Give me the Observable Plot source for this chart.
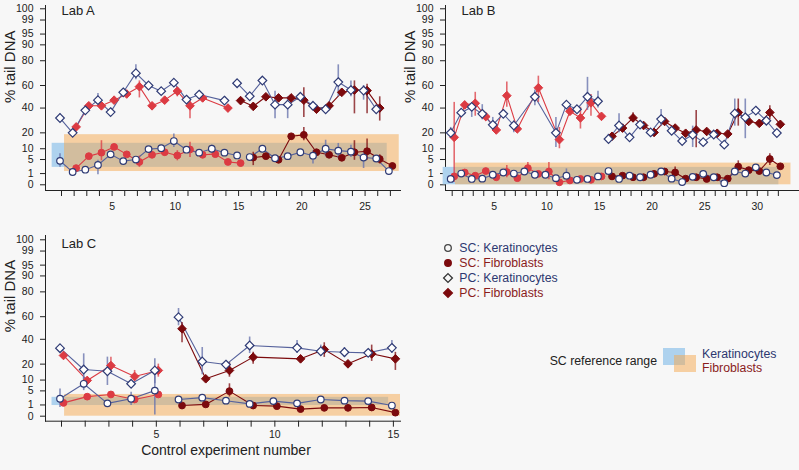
<!DOCTYPE html>
<html><head><meta charset="utf-8">
<script src="https://cdn.jsdelivr.net/npm/d3@7"></script>
<script src="https://cdn.jsdelivr.net/npm/@observablehq/plot@0.6"></script>
<style>
body{margin:0;background:#f7f7f7;font-family:"Liberation Sans",Arial,sans-serif;}
#wrap{position:relative;width:799px;height:470px;overflow:hidden;}
.panel{position:absolute;}
.leg{position:absolute;font-size:12.3px;line-height:14px;white-space:nowrap;}
.sw{position:absolute;}
</style></head><body><div id="wrap"></div>
<script>
// ---------- data (% tail DNA), index = control experiment number - 1 ----------
const yTickLabels = [0, 1, 5, 10, 20, 40, 60, 80, 90, 95, 99, 100];

// Lab A (27 experiments)
const labA_SCK = [4.5,1.3,1.8,3.1,7.2,4.4,5,9.8,10.3,14.5,9.5,8,10,8,6.7,6,10,5.5,6.4,8.2,6.6,10,9,8.5,5.8,5.4,1.5];
const labA_SCF = [null,2.2,6.4,8,11,7.2,4.1,7,8.2,6.7,9.6,7,7.3,4.1,3.7,5.8,6.4,4.9,17.6,18.6,8.2,7,5.7,8.2,8.7,5.2,2.8];
const labA_PCK = [31.5,20,38,47,36.5,54,70.5,60,55,62.5,47.5,52,null,46.6,62,50.5,64.3,43,43,50,42,39,63,56,55.5,39,null];
const labA_PCF = [null,24.4,42,42,47,52.5,59,42,47,55,42,49,null,40,46.6,41.5,50,49,49,47,39,42,54,56,55.5,40,null];
const labA_splitSC = 16, labA_splitPC = 15;
const labA_ranges = [
  {kind:"K", x1:0.26, x2:26.75, lo:2.4, hi:13.1},
  {kind:"F", x1:1.24, x2:27.7, lo:1.4, hi:18.7}
];
const labA_err = [
  ["PCK",1,28,35],["PCK",4,44,53],["PCK",7,65,77],["PCF",7,49,64],["PCK",9,52,58],["PCK",10,60,65],["PCF",10,50,58],
  ["PCF",11,31,47],["PCF",12,45,52],["PCK",14,44,50],["PCK",18,31,55],["PCK",19,31,50],["PCF",20,32,58],["PCK",23,50,77],
  ["PCK",24,50,64],["PCF",24,35,64],["PCF",25,35,61],["PCK",25,47,60],["PCF",26,29,50],
  ["SCK",1,2.4,7.5],["SCF",4,4.5,14.7],["SCK",4,0.8,4.7],["SCF",7,2.4,6.4],["SCK",10,10.7,19.2],["SCF",10,4.5,9],
  ["SCF",11,5.8,13.7],["SCK",13,7.7,12],["SCF",16,2.9,8.2],["SCF",20,14.7,24],["SCK",21,3.4,9],["SCK",22,6.1,15],
  ["SCK",23,5.5,13],["SCF",24,4.7,14.7],["SCK",24,5.8,12],["SCF",25,4.7,15.8],["SCK",25,2.1,8],["SCF",26,3.4,7]
];

// Lab B (32 experiments)
const labB_SCK = [0.27,1.0,0.27,0.3,0.8,1.2,1.0,1.4,0.8,0.8,0.35,0.66,0.2,0.27,0.56,1.5,0.27,0.66,0.45,0.8,1.4,0.3,0.06,0.5,0.95,0.45,0.02,1.4,1.0,2.4,1.2,0.75];
const labB_SCF = [0.56,1.2,0.66,1.5,0.45,1.3,0.35,2.2,0.95,1.4,0.05,0.15,0.27,0.2,0.56,0.56,0.66,0.45,0.45,0.95,1.4,1.2,0.3,0.45,0.27,0.45,0.3,2.6,1.7,1.5,5.2,2.7];
const labB_PCK = [20,36,41,35,26,35,25.5,null,50,null,20,43,39,50,46,15.8,25.5,16.9,26.2,20.3,30.6,21.5,14.5,18.6,13.8,18.8,12.3,35.4,32.1,37.8,29.3,19.9];
const labB_PCF = [16.9,42.8,44.2,32.7,22.1,51,22.9,null,58,null,15.4,37.2,31.6,44.6,32.9,17.6,23.5,31.6,25.5,20.3,28.7,23.5,19.7,22.1,21,19.7,19.2,36.2,28.7,27.2,36.2,26.4];
const labB_splitSC = 16, labB_splitPC = 16;
const labB_ranges = [
  {kind:"K", x1:0.14, x2:32.05, lo:0, hi:2.4},
  {kind:"F", x1:1.31, x2:33.2, lo:0, hi:3.7}
];
const labB_err = [
  ["PCF",1,0.05,45],["PCK",1,17,24],["PCF",3,33,54],["PCK",3,32,44],["PCK",4,30,43],["PCK",5,21.6,32],["PCF",6,40.7,63],
  ["PCK",7,20,29],["PCF",9,45,68],["PCK",9,42,56],["PCK",11,10.7,32],["PCF",11,10,24],["PCF",13,22.8,40.7],["PCK",14,38,67],
  ["PCF",14,33,52],["PCK",15,40,55],["PCK",16,13,19],["PCK",17,20,35],["PCF",18,28,36],["PCK",20,18,23],["PCK",21,25,38.7],
  ["PCF",24,10.5,37.8],["PCK",24,10.7,25],["PCK",28,25,48],["PCF",28,25,48],["PCK",29,16,48],["PCF",31,30,42],
  ["SCF",6,0.4,2.9],["SCF",8,1.3,3.9],["SCF",10,0.2,3.9],["SCK",12,0.1,2],["SCF",22,0.5,2.5],["SCF",28,1.5,4.5],["SCF",31,2.9,7.5]
];

// Lab C (15 experiments)
const labC_SCK = [2.4,8.1,1.3,2.4,5.1,2.2,2.7,1.9,1.2,1.8,1.3,2.2,1.9,1.8,0.9];
const labC_SCF = [1.4,3.0,3.7,2.2,3.7,0.9,1.1,4.9,0.9,0.8,0.4,0.55,0.55,0.6,0.1];
const labC_PCK = [32.4,16.3,15.2,8.1,15.7,59.6,21.9,19.7,34.7,null,32.7,29.9,29.1,28.6,32.7];
const labC_PCF = [26.5,9.8,19,12,15.7,49.3,10.7,15.7,25.2,null,23.9,31.3,20.2,27.8,23.9];
const labC_splitSC = 6, labC_splitPC = 6;
const labC_ranges = [
  {kind:"K", x1:0.6, x2:14.8, lo:0.9, hi:2.8},
  {kind:"F", x1:1.13, x2:15.3, lo:0, hi:3.7}
];
const labC_err = [
  ["SCK",1,0.6,5.8],["PCK",2,5.8,27.8],["SCK",2,5.1,11.6],["PCK",3,7.3,25.2],["PCF",3,15.7,25.2],["PCF",4,9.4,15.7],
  ["SCK",4,0.9,4.5],["PCK",5,8.1,23.9],["SCK",5,0.01,12],["PCF",5,11.6,20],["PCK",6,52,67],["PCF",6,37,55],["PCK",7,13,33],
  ["PCF",8,11.6,21],["SCF",8,2.9,8.1],["PCK",9,28,42],["PCF",9,20,29],["PCK",11,28,39],["PCK",12,26,35],["PCF",12,25,37],
  ["PCK",13,25,33],["PCF",14,22,35],["PCK",15,28,39],["PCF",15,15.7,29]
];

// ---------- drawing ----------
const T = p => Math.asin(Math.sqrt(Math.max(0, Math.min(100, p)) / 100)); // arcsine-sqrt scale
const K_LINE = "#56629c", K_STROKE = "#2f3b75", F1 = "#dc3b43", F2 = "#7c0a0d";
const K_ERR = "#6a76ae";
const RANGE_K = "#aed2ee", RANGE_F = "#f5a84e", RANGE_F_OP = 0.5;
const fcol = d => d.batch === 1 ? F1 : F2;

function series(vals, code, split) {
  return vals.map((v, i) => ({exp: i + 1, v, code, batch: i + 1 >= split ? 2 : 1})).filter(d => d.v != null);
}

function panel(cfg) {
  const SCK = series(cfg.sck, "SCK", cfg.splitSC);
  const SCF = series(cfg.scf, "SCF", cfg.splitSC);
  const PCK = series(cfg.pck, "PCK", cfg.splitPC);
  const PCF = series(cfg.pcf, "PCF", cfg.splitPC);
  const errs = cfg.err.map(([code, exp, lo, hi]) => ({code, exp, lo, hi,
    batch: exp >= (code.startsWith("SC") ? cfg.splitSC : cfg.splitPC) ? 2 : 1}));
  const dxK = -1.5, dxF = 2;
  const yv = d => T(d.v);
  const marks = [
    Plot.rect(cfg.ranges.filter(r => r.kind === "K"), {x1: "x1", x2: "x2", y1: d => T(d.lo), y2: d => T(d.hi), fill: RANGE_K}),
    Plot.rect(cfg.ranges.filter(r => r.kind === "F"), {x1: "x1", x2: "x2", y1: d => T(d.lo), y2: d => T(d.hi), fill: RANGE_F, fillOpacity: RANGE_F_OP}),
    Plot.line(PCF, {x: "exp", y: yv, z: "batch", stroke: fcol, strokeWidth: 1.1, dx: dxF}),
    Plot.line(SCF, {x: "exp", y: yv, z: "batch", stroke: fcol, strokeWidth: 1.1, dx: dxF}),
    Plot.line(PCK, {x: "exp", y: yv, z: "batch", stroke: K_LINE, strokeWidth: 1.1, dx: dxK}),
    Plot.line(SCK, {x: "exp", y: yv, z: "batch", stroke: K_LINE, strokeWidth: 1.1, dx: dxK}),
    Plot.ruleX(errs.filter(d => d.code.endsWith("F")), {x: "exp", y1: d => T(d.lo), y2: d => T(d.hi), stroke: fcol, strokeWidth: 1.6, strokeOpacity: 0.75, dx: dxF}),
    Plot.ruleX(errs.filter(d => d.code.endsWith("K")), {x: "exp", y1: d => T(d.lo), y2: d => T(d.hi), stroke: K_ERR, strokeWidth: 1.6, strokeOpacity: 0.8, dx: dxK}),
    Plot.dot(PCF, {x: "exp", y: yv, symbol: "diamond2", r: 3.9, fill: fcol, stroke: fcol, strokeWidth: 1, dx: dxF}),
    Plot.dot(SCF, {x: "exp", y: yv, symbol: "circle", r: 3.4, fill: fcol, stroke: fcol, strokeWidth: 1, dx: dxF}),
    Plot.dot(PCK, {x: "exp", y: yv, symbol: "diamond2", r: 3.9, fill: "white", stroke: K_STROKE, strokeWidth: 1.2, dx: dxK}),
    Plot.dot(SCK, {x: "exp", y: yv, symbol: "circle", r: 3.3, fill: "white", stroke: K_STROKE, strokeWidth: 1.2, dx: dxK}),
    Plot.text([cfg.title], {frameAnchor: "top-left", text: d => d, dx: 16, dy: cfg.titleDy, fontSize: 13, textAnchor: "start", lineAnchor: "middle", fill: "#222"}),
    Plot.text(["% tail DNA"], {frameAnchor: "left", text: d => d, rotate: -90, dx: -35, dy: cfg.ytDy, fontSize: 15, lineAnchor: "middle", fill: "#222"})
  ];
  if (cfg.xTitle) marks.push(Plot.text([cfg.xTitle], {frameAnchor: "bottom", text: d => d, dx: 3, dy: 29.5, fontSize: 14, lineAnchor: "middle", fill: "#222"}));
  const chart = Plot.plot({
    width: cfg.width, height: cfg.height,
    marginLeft: 45, marginRight: 0, marginTop: cfg.mt, marginBottom: cfg.mb,
    style: {background: "transparent", fontFamily: "'Liberation Sans', Arial, sans-serif", fontSize: "10.5px", color: "#222", overflow: "visible"},
    color: {type: "identity"},
    x: {domain: cfg.xDomain, ticks: cfg.sck.map((_, i) => i + 1), tickFormat: d => d % 5 === 0 ? String(d) : "",
        tickSize: 6, tickPadding: cfg.xPad, line: true, label: null},
    y: {domain: cfg.yDomain, ticks: yTickLabels.map(T), tickFormat: t => String(Math.round(100 * Math.sin(t) ** 2)),
        tickSize: 5, tickPadding: 7, line: true, label: null},
    marks
  });
  chart.classList.add("panel");
  chart.style.left = cfg.left + "px";
  chart.style.top = cfg.top + "px";
  document.getElementById("wrap").appendChild(chart);
}

panel({title: "Lab A", sck: labA_SCK, scf: labA_SCF, pck: labA_PCK, pcf: labA_PCF, splitSC: labA_splitSC, splitPC: labA_splitPC,
  ranges: labA_ranges, err: labA_err, left: 0, top: 0, width: 400, height: 215, mt: 5, mb: 25,
  xDomain: [-0.265, 27.8], yDomain: [-0.0509, 1.6002], titleDy: 5, ytDy: 5, xPad: 6});
panel({title: "Lab B", sck: labB_SCK, scf: labB_SCF, pck: labB_PCK, pcf: labB_PCF, splitSC: labB_splitSC, splitPC: labB_splitPC,
  ranges: labB_ranges, err: labB_err, left: 400, top: 0, width: 399, height: 215, mt: 5, mb: 25,
  xDomain: [0.363, 34.01], yDomain: [-0.0509, 1.6002], titleDy: 5, ytDy: 5, xPad: 6});
panel({title: "Lab C", sck: labC_SCK, scf: labC_SCF, pck: labC_PCK, pcf: labC_PCF, splitSC: labC_splitSC, splitPC: labC_splitPC,
  ranges: labC_ranges, err: labC_err, left: 0, top: 220, width: 400, height: 250, mt: 15, mb: 49.3,
  xDomain: [0.325, 15.3], yDomain: [-0.0445, 1.6091], titleDy: 8.3, ytDy: 4, xPad: 3,
  xTitle: "Control experiment number"});

// ---------- legends ----------
const legendItems = [
  {label: "SC: Keratinocytes", sym: "circle", fill: "none", stroke: "#444", color: "#2d3870", y: 248.3},
  {label: "SC: Fibroblasts", sym: "circle", fill: "#7c0a0d", stroke: "#7c0a0d", color: "#8a1c1c", y: 263.3},
  {label: "PC: Keratinocytes", sym: "diamond", fill: "none", stroke: "#333", color: "#2d3870", y: 278.3},
  {label: "PC: Fibroblasts", sym: "diamond", fill: "#7c0a0d", stroke: "#7c0a0d", color: "#8a1c1c", y: 292.7}
];
const wrap = document.getElementById("wrap");
for (const it of legendItems) {
  const s = document.createElementNS("http://www.w3.org/2000/svg", "svg");
  s.setAttribute("width", 12); s.setAttribute("height", 12);
  s.style.position = "absolute"; s.style.left = (448.3 - 6) + "px"; s.style.top = (it.y - 6) + "px";
  const shape = it.sym === "circle"
    ? `<circle cx="6" cy="6" r="3.3" fill="${it.fill}" stroke="${it.stroke}" stroke-width="1.3"/>`
    : `<path d="M6,1.6L10.4,6L6,10.4L1.6,6Z" fill="${it.fill}" stroke="${it.stroke}" stroke-width="1.3"/>`;
  s.innerHTML = shape;
  wrap.appendChild(s);
  const t = document.createElement("div");
  t.className = "leg"; t.textContent = it.label; t.style.color = it.color;
  t.style.left = "459.3px"; t.style.top = (it.y - 7) + "px";
  wrap.appendChild(t);
}
const refText = document.createElement("div");
refText.className = "leg"; refText.textContent = "SC reference range"; refText.style.color = "#222";
refText.style.left = "500px"; refText.style.width = "157px"; refText.style.textAlign = "right"; refText.style.top = (360.7 - 7) + "px";
wrap.appendChild(refText);
const swK = document.createElement("div");
swK.className = "sw"; Object.assign(swK.style, {left: "663px", top: "348px", width: "22px", height: "17px", background: RANGE_K});
wrap.appendChild(swK);
const swF = document.createElement("div");
swF.className = "sw"; Object.assign(swF.style, {left: "674px", top: "355px", width: "22px", height: "17px", background: RANGE_F, opacity: RANGE_F_OP});
wrap.appendChild(swF);
const kTxt = document.createElement("div");
kTxt.className = "leg"; kTxt.textContent = "Keratinocytes"; kTxt.style.color = "#2d3870";
kTxt.style.left = "702px"; kTxt.style.top = (353.5 - 7) + "px"; wrap.appendChild(kTxt);
const fTxt = document.createElement("div");
fTxt.className = "leg"; fTxt.textContent = "Fibroblasts"; fTxt.style.color = "#8a1c1c";
fTxt.style.left = "702px"; fTxt.style.top = (367.5 - 7) + "px"; wrap.appendChild(fTxt);
</script></body></html>
